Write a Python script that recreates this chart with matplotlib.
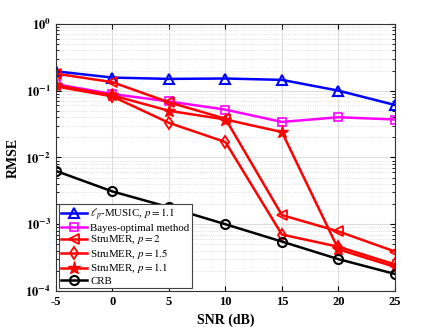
import matplotlib.pyplot as plt
import numpy as np

plt.rcParams['font.family'] = ['Liberation Serif', 'DejaVu Serif']
plt.rcParams['mathtext.fontset'] = 'stix'

snr = [-5, 0, 5, 10, 15, 20, 25]
lp_music = [0.195, 0.157, 0.150, 0.152, 0.145, 0.100, 0.061]
bayes = [0.125, 0.089, 0.069, 0.052, 0.034, 0.040, 0.037]
strumer_2 = [0.180, 0.134, 0.067, 0.038, 0.00137, 0.00078, 0.00039]
strumer_15 = [0.116, 0.082, 0.033, 0.017, 0.00070, 0.00046, 0.00025]
strumer_11 = [0.121, 0.085, 0.050, 0.037, 0.024, 0.00042, 0.00023]
crb = [0.0063, 0.0031, 0.0018, 0.00100, 0.00055, 0.00030, 0.00018]

fig = plt.figure(figsize=(4.36, 3.27), dpi=100)
ax = fig.add_axes([0.128, 0.110, 0.778, 0.817])

lw = 1.8
ax.semilogy(snr, lp_music, '-^', color='blue', lw=lw, ms=7.5, mfc='none', mew=1.5,
            label=r'$\ell_p$-MUSIC, $p = 1.1$')
ax.semilogy(snr, bayes, '-s', color='magenta', lw=lw, ms=5.5, mfc='none', mew=1.2,
            label='Bayes-optimal method')
ax.semilogy(snr, strumer_2, '-<', color='red', lw=lw, ms=7.5, mfc='none', mew=1.3,
            label=r'StruMER, $p = 2$')
ax.semilogy(snr, strumer_15, '-d', color='red', lw=lw, ms=6.5, mfc='none', mew=1.3,
            label=r'StruMER, $p = 1.5$')
ax.semilogy(snr, strumer_11, '-*', color='red', lw=lw, ms=9.5, mfc='red', mew=1,
            label=r'StruMER, $p = 1.1$')
ax.semilogy(snr, crb, '-o', color='black', lw=lw, ms=6.5, mfc='none', mew=1.5,
            label='CRB')

ax.set_xlim(-5, 25)
ax.set_ylim(1e-4, 1)
ax.set_xticks(snr)
ax.set_xticklabels([str(s) for s in snr], fontweight='bold', fontsize=9)
ax.set_yticks([1e-4, 1e-3, 1e-2, 1e-1, 1])
ax.set_yticklabels([r'$\mathbf{10^{%d}}$' % e for e in [-4, -3, -2, -1, 0]], fontsize=9)
ax.set_xlabel('SNR (dB)', fontweight='bold', fontsize=10)
ax.set_ylabel('RMSE', fontweight='bold', fontsize=10)

ax.grid(True, which='major', color='#dddddd', lw=0.8)
ax.grid(True, which='minor', color='#d5d5d5', lw=0.6, ls=':')
ax.tick_params(which='both', direction='in', top=True, right=True)
for s in ax.spines.values():
    s.set_linewidth(0.8)
    s.set_color('#333333')

leg = ax.legend(loc='lower left', fontsize=7.8, fancybox=False, framealpha=1,
                edgecolor='#444444', borderpad=0.2, labelspacing=0.05,
                handlelength=2.4, handletextpad=0.3, borderaxespad=0.3)
leg.get_frame().set_linewidth(0.8)

fig.savefig('out.png', dpi=100)
